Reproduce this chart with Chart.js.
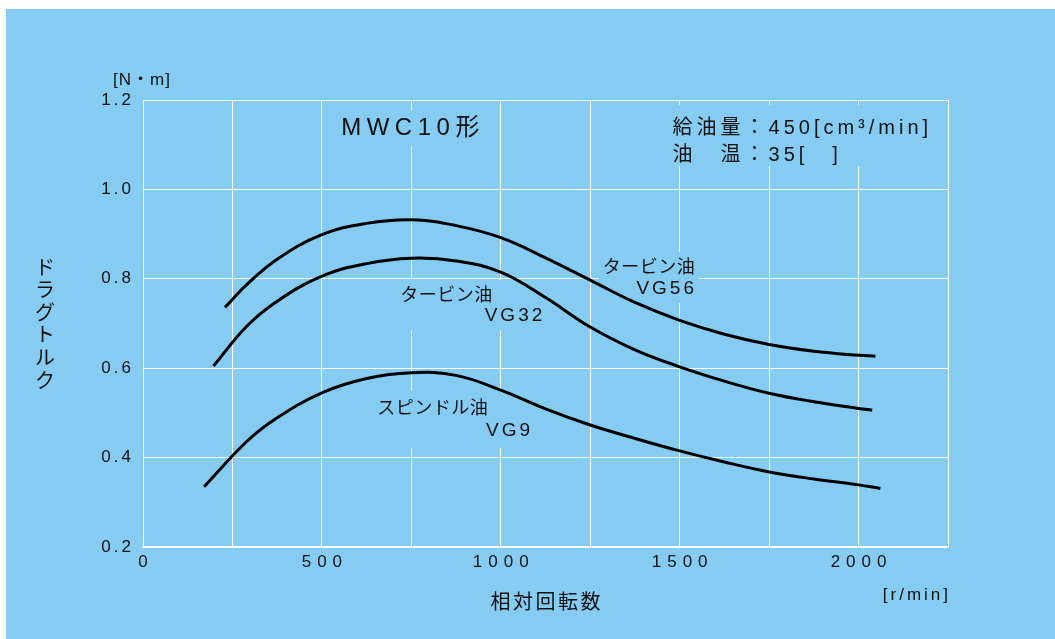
<!DOCTYPE html>
<html>
<head>
<meta charset="utf-8">
<script src="https://cdn.jsdelivr.net/npm/chart.js@4.4.1/dist/chart.umd.min.js"></script>
<style>
  html, body { margin: 0; padding: 0; background: #fff; overflow: hidden; }
  canvas { display: block; }
</style>
</head>
<body>
<canvas id="c" width="1055" height="639"></canvas>
<script>
// Drag torque vs. relative speed, MWC10 type, three lubricating oils
const rpmVG56    = [229, 290, 375, 500, 625, 750, 875, 1000, 1125, 1250, 1375, 1500, 1625, 1750, 1875, 2000, 2047];
const torqueVG56 = [0.736, 0.787, 0.844, 0.899, 0.924, 0.932, 0.919, 0.892, 0.847, 0.797, 0.747, 0.707, 0.676, 0.653, 0.638, 0.629, 0.627];

const rpmVG32    = [197, 290, 375, 500, 625, 750, 875, 1000, 1125, 1250, 1375, 1500, 1625, 1750, 1875, 2000, 2038];
const torqueVG32 = [0.605, 0.694, 0.750, 0.806, 0.834, 0.846, 0.840, 0.815, 0.758, 0.692, 0.641, 0.603, 0.571, 0.544, 0.525, 0.510, 0.506];

const rpmVG9     = [171, 290, 375, 500, 625, 750, 875, 1000, 1125, 1250, 1375, 1500, 1625, 1750, 1875, 2000, 2061];
const torqueVG9  = [0.335, 0.436, 0.489, 0.545, 0.577, 0.590, 0.584, 0.551, 0.509, 0.473, 0.443, 0.415, 0.390, 0.368, 0.352, 0.339, 0.331];

const xTickValues = [0, 500, 1000, 1500, 2000];
const yTickLabels = ['0.2', '0.4', '0.6', '0.8', '1.0', '1.2'];

const BG = '#86cbf2';
const INK = '#111';
const LATIN = '"Liberation Sans", "Noto Sans CJK JP", sans-serif';
const JP = '"Noto Sans CJK JP", "Liberation Sans", sans-serif';

const toPoints = (xs, ys) => xs.map((x, i) => ({ x, y: ys[i] }));

// In-plot captions, anchored in data units (rpm, N·m)
const captions = [
  { group: 'title', text: 'MWC10形', x: 554, y: 1.136, align: 'left', font: '24px ' + LATIN, sp: 5.5 },
  { group: 'cond', text: '給油量：450[cm³/min]', x: 1480, y: 1.136, align: 'left', font: '20px ' + LATIN, sp: 4 },
  { group: 'cond', text: '油　温：35[　]', x: 1480, y: 1.076, align: 'left', font: '20px ' + LATIN, sp: 4 },
  { group: 'vg56', text: 'タービン油', x: 1285, y: 0.829, align: 'left', font: '18px ' + JP, sp: 0.5 },
  { group: 'vg56', text: 'VG56', x: 1540, y: 0.778, align: 'right', font: '19px ' + LATIN, sp: 3 },
  { group: 'vg32', text: 'タービン油', x: 719, y: 0.7665, align: 'left', font: '18px ' + JP, sp: 0.5 },
  { group: 'vg32', text: 'VG32', x: 1116, y: 0.717, align: 'right', font: '19px ' + LATIN, sp: 3 },
  { group: 'vg9', text: 'スピンドル油', x: 655, y: 0.512, align: 'left', font: '18px ' + JP, sp: 0.5 },
  { group: 'vg9', text: 'VG9', x: 1082, y: 0.461, align: 'right', font: '19px ' + LATIN, sp: 3 }
];
// [horizontal, top, bottom] padding of the grid mask behind each caption group
const boxPad = { title: [6, 6, 6], cond: [6, 14, 1], vg56: [4, 5, 5], vg32: [4, 5, 5], vg9: [5, 8, 8] };

function textSpan(ctx, c, px) {
  ctx.save();
  ctx.font = c.font;
  ctx.letterSpacing = c.sp + 'px';
  const w = ctx.measureText(c.text).width - c.sp;
  ctx.restore();
  const left = c.align === 'right' ? px - w : (c.align === 'center' ? px - w / 2 : px);
  return [left, left + w];
}

function drawText(ctx, text, x, y, font, sp, align) {
  ctx.save();
  ctx.font = font;
  ctx.letterSpacing = sp + 'px';
  ctx.fillStyle = INK;
  ctx.textBaseline = 'middle';
  ctx.textAlign = align;
  const dx = align === 'right' ? sp : (align === 'center' ? sp / 2 : 0);
  ctx.fillText(text, x + dx, y);
  ctx.restore();
}

const decor = {
  id: 'decor',
  beforeDraw(chart) {
    const ctx = chart.ctx;
    ctx.save();
    ctx.fillStyle = '#fff';
    ctx.fillRect(0, 0, chart.width, chart.height);
    ctx.fillStyle = BG;
    ctx.fillRect(6, 9, chart.width - 6, chart.height - 9);
    ctx.restore();

    // per-axis letter spacing for tick labels
    [['x', 6, 3], ['y', 3, 3]].forEach(([id, sp, dx]) => {
      const s = chart.scales[id];
      if (s._spaced) return;
      const orig = s.drawLabels;
      s.drawLabels = function (area) {
        const c = this.ctx;
        c.save();
        c.letterSpacing = sp + 'px';
        c.translate(dx, 0);
        orig.call(this, area);
        c.restore();
      };
      s._spaced = true;
    });
  },
  beforeDatasetsDraw(chart) {
    // caption backgrounds mask the grid behind the text
    const ctx = chart.ctx, xs = chart.scales.x, ys = chart.scales.y;
    const groups = {};
    captions.forEach(c => {
      const px = xs.getPixelForValue(c.x), py = ys.getPixelForValue(c.y);
      const [l, r] = textSpan(ctx, c, px);
      const h = parseFloat(c.font);
      const g = groups[c.group] || (groups[c.group] = { l: 1e9, r: -1e9, t: 1e9, b: -1e9 });
      g.l = Math.min(g.l, l); g.r = Math.max(g.r, r);
      g.t = Math.min(g.t, py - h / 2); g.b = Math.max(g.b, py + h / 2);
    });
    ctx.save();
    ctx.fillStyle = BG;
    Object.keys(groups).forEach(k => {
      const g = groups[k], [ph, pt, pb] = boxPad[k];
      ctx.fillRect(g.l - ph, g.t - pt, g.r - g.l + 2 * ph, g.b - g.t + pt + pb);
    });
    ctx.restore();
  },
  afterDraw(chart) {
    const ctx = chart.ctx, xs = chart.scales.x, ys = chart.scales.y, a = chart.chartArea;
    captions.forEach(c => {
      drawText(ctx, c.text, xs.getPixelForValue(c.x), ys.getPixelForValue(c.y), c.font, c.sp, c.align);
    });
    // unit labels
    drawText(ctx, '[N・m]', a.left - 30, a.top - 20, '17px ' + LATIN, 1, 'left');
    drawText(ctx, '[r/min]', a.right, 595, '17px ' + LATIN, 3, 'right');
    // axis titles
    drawText(ctx, '相対回転数', (a.left + a.right) / 2, 601, '20px ' + JP, 2.5, 'center');
    const yTitle = 'ドラグトルク';
    const pitch = 22.6;
    const cy = (a.top + a.bottom) / 2;
    const y0 = cy - pitch * (yTitle.length - 1) / 2;
    for (let i = 0; i < yTitle.length; i++) {
      drawText(ctx, yTitle[i], 45, y0 + i * pitch, '20px ' + JP, 0, 'center');
    }
  }
};

const lineStyle = {
  borderColor: '#000',
  borderWidth: 3,
  pointRadius: 0,
  pointHoverRadius: 0,
  showLine: true,
  fill: false,
  tension: 0.4,
  borderCapStyle: 'butt'
};

new Chart(document.getElementById('c'), {
  type: 'scatter',
  data: {
    datasets: [
      Object.assign({ label: 'タービン油 VG56', data: toPoints(rpmVG56, torqueVG56) }, lineStyle),
      Object.assign({ label: 'タービン油 VG32', data: toPoints(rpmVG32, torqueVG32) }, lineStyle),
      Object.assign({ label: 'スピンドル油 VG9', data: toPoints(rpmVG9, torqueVG9) }, lineStyle)
    ]
  },
  options: {
    responsive: false,
    animation: false,
    events: [],
    layout: { padding: { left: 0, top: 100, right: 107, bottom: 0 } },
    plugins: { legend: { display: false }, tooltip: { enabled: false } },
    scales: {
      x: {
        type: 'linear',
        min: 0,
        max: 2250,
        afterFit: s => { s.height = 92; },
        grid: { color: '#fff', lineWidth: 1, drawTicks: false },
        border: { color: '#fff', width: 1.5 },
        ticks: {
          stepSize: 250,
          autoSkip: false,
          maxRotation: 0,
          padding: 5,
          color: INK,
          font: { family: '"Liberation Sans"', size: 17 },
          callback: v => (xTickValues.includes(v) ? String(v) : '')
        }
      },
      y: {
        type: 'linear',
        min: 0.2,
        max: 1.2,
        afterFit: s => { s.width = 143; },
        grid: { color: '#fff', lineWidth: 1, drawTicks: false },
        border: { color: '#fff', width: 1 },
        ticks: {
          stepSize: 0.2,
          padding: 12,
          color: INK,
          font: { family: '"Liberation Sans"', size: 17 },
          callback: (v, i) => yTickLabels[i]
        }
      }
    }
  },
  plugins: [decor]
});
</script>
</body>
</html>
